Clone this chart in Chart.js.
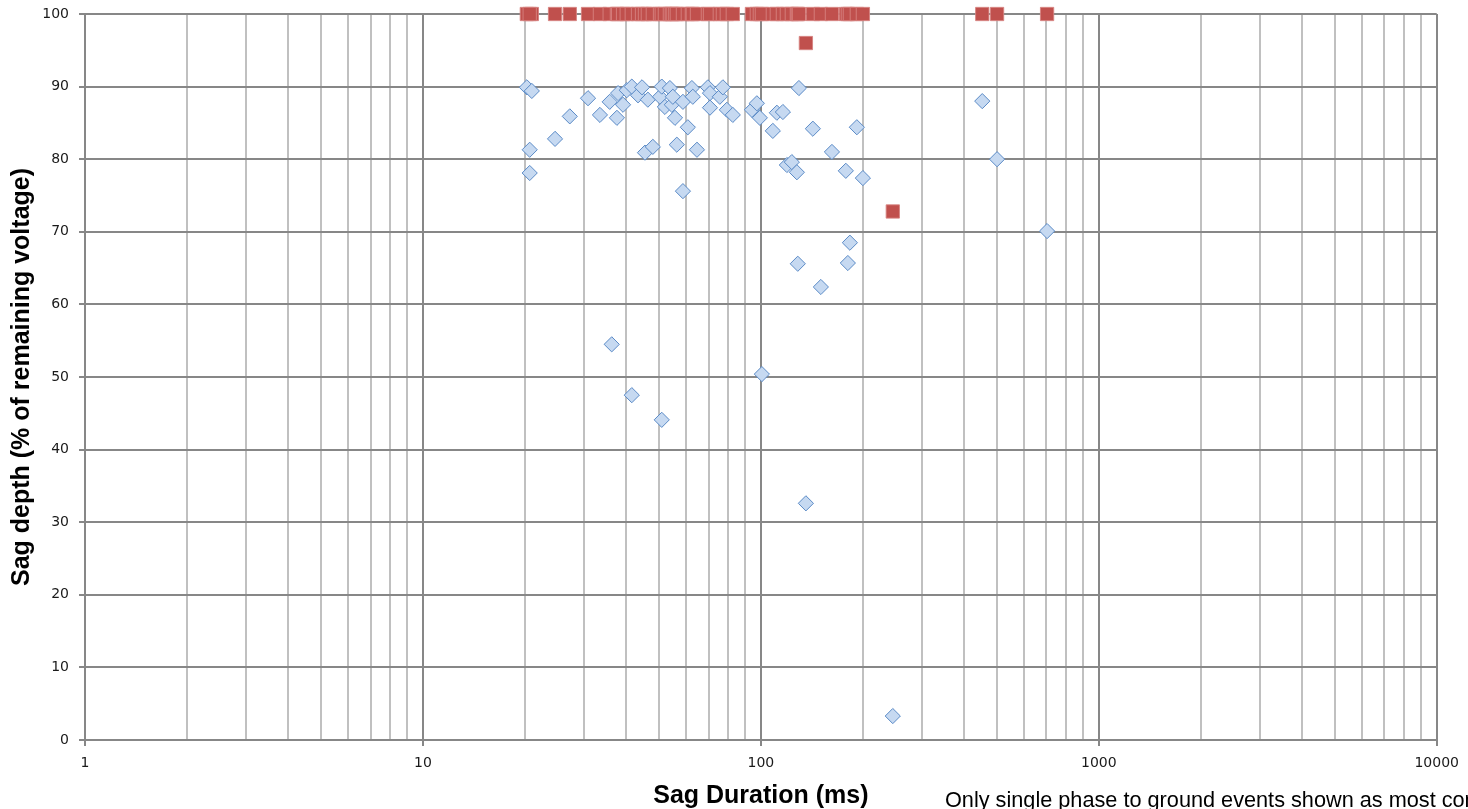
<!DOCTYPE html>
<html>
<head>
<meta charset="utf-8">
<script src="https://cdn.jsdelivr.net/npm/chart.js@4"></script>
<style>
  html, body { margin: 0; padding: 0; background: #fff; overflow: hidden; width: 1468px; height: 809px; }
  #wrap { position: relative; width: 1468px; height: 809px; overflow: hidden; }
  #c { position: absolute; left: 0; top: 0; }
  #note { position: absolute; left: 945px; top: 789px; font: 21.7px "Liberation Sans", Arial, sans-serif; line-height: 22px; color: #000; white-space: nowrap; }
</style>
</head>
<body>
<div id="wrap">
  <canvas id="c" width="1468" height="809"></canvas>
  <div id="note">Only single phase to ground events shown as most common</div>
</div>
<script>
// ---- Data ----
// Faulted phase: sag duration (ms) and remaining voltage (%)
const faultDurations = [20.3, 21.0, 20.7, 20.7, 24.6, 27.2, 30.8, 33.4, 35.7, 37.5,
  37.8, 39.1, 40.1, 41.5, 43.3, 44.5, 45.4, 46.3, 47.9, 50.3,
  50.9, 52.0, 53.8, 54.5, 54.9, 55.7, 56.4, 58.8, 58.8, 60.8,
  62.5, 62.9, 64.7, 69.7, 70.7, 70.7, 75.6, 77.2, 79.3, 82.6,
  94.1, 97.3, 99.3, 108.5, 111.5, 116.2, 119.4, 123.5, 127.8, 129.6,
  128.6, 142.5, 150.5, 162.3, 178.4, 180.9, 183.4, 192.3, 200.4, 36.2,
  41.5, 50.9, 100.7, 135.9, 245.7, 452, 500, 703];
const faultDepths = [89.9, 89.4, 81.3, 78.1, 82.8, 85.9, 88.4, 86.1, 87.9, 85.7,
  89.1, 87.5, 89.5, 90.0, 88.8, 89.9, 80.9, 88.2, 81.7, 88.6,
  90.0, 87.2, 89.8, 87.5, 88.6, 85.7, 82.0, 87.9, 75.6, 84.4,
  89.8, 88.6, 81.3, 89.9, 89.1, 87.1, 88.6, 89.9, 86.8, 86.1,
  86.8, 87.7, 85.7, 83.9, 86.4, 86.5, 79.2, 79.6, 78.2, 89.8,
  65.6, 84.2, 62.4, 81.0, 78.4, 65.7, 68.5, 84.4, 77.4, 54.5,
  47.5, 44.1, 50.4, 32.6, 3.3, 88.0, 80.0, 70.1];
// Other phases: sag duration (ms) and remaining voltage (%)
const otherDurations = [20.3, 21.0, 20.7, 24.6, 27.2, 30.8, 33.4, 35.7, 37.5, 37.8,
  39.1, 40.1, 41.5, 43.3, 44.5, 45.4, 46.3, 47.9, 50.3, 50.9,
  52.0, 53.8, 54.5, 54.9, 55.7, 56.4, 58.8, 60.8, 62.5, 62.9,
  64.7, 69.7, 70.7, 75.6, 77.2, 79.3, 82.6, 94.1, 97.3, 99.3,
  100.7, 108.5, 111.5, 116.2, 119.4, 123.5, 127.8, 128.6, 129.6, 142.5,
  150.5, 162.3, 178.4, 180.9, 183.4, 192.3, 200.4, 135.9, 245.7, 452,
  500, 703];
const otherDepths = [100, 100, 100, 100, 100, 100, 100, 100, 100, 100,
  100, 100, 100, 100, 100, 100, 100, 100, 100, 100,
  100, 100, 100, 100, 100, 100, 100, 100, 100, 100,
  100, 100, 100, 100, 100, 100, 100, 100, 100, 100,
  100, 100, 100, 100, 100, 100, 100, 100, 100, 100,
  100, 100, 100, 100, 100, 100, 100, 96, 72.8, 100,
  100, 100];
// Axis ticks
const xDecades = [1, 10, 100, 1000, 10000];
const xMinorSteps = [2, 3, 4, 5, 6, 7, 8, 9];
const yMin = 0, yMax = 100, yStep = 10;

const xTickValues = [];
xDecades.forEach((d, i) => {
  xTickValues.push(d);
  if (i < xDecades.length - 1) xMinorSteps.forEach(m => xTickValues.push(m * d));
});
const isMajorX = v => xDecades.some(d => Math.abs(d - v) < 1e-9 * d);

const toPoints = (xs, ys) => xs.map((x, i) => ({ x: x, y: ys[i] }));

const MAJOR = '#878787';
const MINOR = '#c0c0c0';

new Chart(document.getElementById('c'), {
  type: 'scatter',
  data: {
    datasets: [
      {
        label: 'Faulted phase',
        data: toPoints(faultDurations, faultDepths),
        pointStyle: 'rectRot',
        pointRadius: 7.6,
        pointHoverRadius: 7.6,
        backgroundColor: '#c6d9f1',
        borderColor: '#5a8ac6',
        borderWidth: 1,
        clip: false
      },
      {
        label: 'Other phases',
        data: toPoints(otherDurations, otherDepths),
        pointStyle: 'rect',
        pointRadius: 9.4,
        pointHoverRadius: 9.4,
        backgroundColor: '#c0504d',
        borderColor: 'rgba(214,130,128,0.9)',
        borderWidth: 1,
        clip: false
      }
    ]
  },
  options: {
    responsive: false,
    animation: false,
    devicePixelRatio: 1,
    events: [],
    layout: { padding: { top: 14, right: 31, left: 0, bottom: 0 } },
    plugins: { legend: { display: false }, tooltip: { enabled: false } },
    scales: {
      x: {
        type: 'logarithmic',
        min: 1,
        max: 10000,
        afterBuildTicks: (scale) => {
          scale.ticks = xTickValues.map(v => ({ value: v, major: isMajorX(v) }));
        },
        afterFit: (scale) => { scale.height = 69; },
        ticks: {
          autoSkip: false,
          maxRotation: 0,
          minRotation: 0,
          padding: 9,
          color: '#1a1a1a',
          font: { family: '"DejaVu Sans", Verdana, sans-serif', size: 14 },
          callback: (value) => isMajorX(value) ? String(value) : ''
        },
        grid: {
          lineWidth: 2,
          color: (ctx) => (ctx.tick && isMajorX(ctx.tick.value)) ? MAJOR : MINOR,
          tickColor: (ctx) => (ctx.tick && isMajorX(ctx.tick.value)) ? MAJOR : 'rgba(0,0,0,0)',
          tickLength: 6,
          drawTicks: true
        },
        border: { display: true, color: MAJOR, width: 2 },
        title: {
          display: true,
          text: 'Sag Duration (ms)',
          color: '#000',
          font: { family: '"Liberation Sans", Arial, sans-serif', size: 25, weight: 'bold' },
          padding: { top: 0, bottom: -2 }
        }
      },
      y: {
        type: 'linear',
        min: yMin,
        max: yMax,
        afterFit: (scale) => { scale.width = 85; scale.paddingTop = 0; scale.paddingBottom = 0; },
        ticks: {
          stepSize: yStep,
          padding: 10,
          color: '#1a1a1a',
          font: { family: '"DejaVu Sans", Verdana, sans-serif', size: 14 }
        },
        grid: {
          lineWidth: 2,
          color: MAJOR,
          tickColor: MAJOR,
          tickLength: 6
        },
        border: { display: true, color: MAJOR, width: 2 },
        title: {
          display: true,
          text: 'Sag depth (% of remaining voltage)',
          color: '#000',
          font: { family: '"Liberation Sans", Arial, sans-serif', size: 25, weight: 'bold' },
          padding: { top: 7, bottom: 0 }
        }
      }
    }
  }
});
</script>
</body>
</html>
